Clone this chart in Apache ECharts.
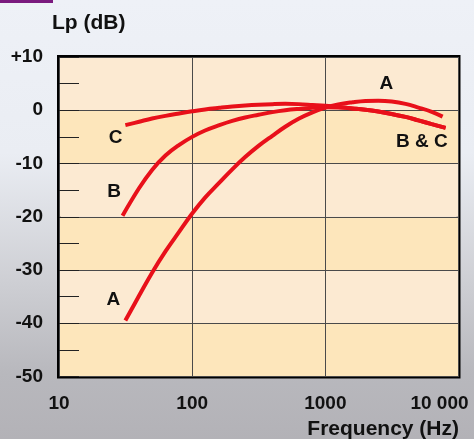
<!DOCTYPE html>
<html>
<head>
<meta charset="utf-8">
<script src="https://cdn.jsdelivr.net/npm/echarts@6/dist/echarts.min.js"></script>
<style>
html,body{margin:0;padding:0;}
#c{width:474px;height:439px;}
</style>
</head>
<body>
<div id="c"></div>
<script>
// ---- data ----
const freqA = [31.5, 40, 50, 63, 80, 100, 125, 160, 200, 250, 315, 400, 500, 630, 800, 1000, 1250, 1600, 2000, 2500, 3150, 4000, 5000, 6300, 7600];
const dbA   = [-39.5, -34.8, -30.5, -26.5, -22.8, -19.4, -16.4, -13.6, -11.1, -8.8, -6.7, -4.8, -3.1, -1.6, -0.4, 0.5, 1.1, 1.5, 1.75, 1.8, 1.65, 1.2, 0.5, -0.3, -1.2];
const freqB = [30, 40, 50, 63, 80, 100, 125, 160, 200, 250, 315, 400, 500, 630, 800, 1000, 1250, 1600, 2000, 2500, 3150, 4000, 5000, 6300, 8000];
const dbB   = [-19.8, -14.6, -11.2, -8.5, -6.5, -5.0, -3.8, -2.8, -2.0, -1.35, -0.85, -0.35, 0.0, 0.25, 0.45, 0.55, 0.5, 0.35, 0.1, -0.25, -0.7, -1.25, -1.9, -2.6, -3.3];
const freqC = [31.5, 40, 50, 63, 80, 100, 125, 160, 200, 250, 315, 400, 500, 630, 800, 1000, 1250, 1600, 2000, 2500, 3150, 4000, 5000, 6300, 8000];
const dbC   = [-2.8, -2.15, -1.55, -1.05, -0.6, -0.2, 0.15, 0.45, 0.7, 0.9, 1.05, 1.15, 1.2, 1.15, 1.0, 0.85, 0.6, 0.35, 0.1, -0.25, -0.7, -1.25, -1.9, -2.6, -3.3];
const curveLabels = ['C', 'B', 'A', 'A', 'B & C'];
const curveLabelFreq = [26.6, 25.9, 25.6, 2870, 5300];
const curveLabelDb = [-5.2, -15.3, -35.6, 4.9, -6.0];
const yTicks = { min: -50, max: 10, step: 10 };
const xTicks = { min: 10, max: 10000 };
const yTitle = 'Lp (dB)';
const xTitle = 'Frequency (Hz)';

const FONT = '"Liberation Sans", Arial, Helvetica, sans-serif';
const RED = '#e8101a';
const pair = (xs, ys) => xs.map((x, i) => [x, ys[i]]);

const chart = echarts.init(document.getElementById('c'), null, {renderer: 'canvas'});
chart.setOption({
  animation: false,
  backgroundColor: {
    type: 'linear', x: 0, y: 0, x2: 0, y2: 1,
    colorStops: [
      {offset: 0, color: '#eef1f7'},
      {offset: 0.35, color: '#eaedf3'},
      {offset: 0.65, color: '#cdced3'},
      {offset: 0.85, color: '#b8b8bd'},
      {offset: 1, color: '#b3b2b7'}
    ]
  },
  title: [
    {text: yTitle, left: 52, top: 13, padding: 0, textStyle: {fontFamily: FONT, fontSize: 21, fontWeight: 'bold', color: '#111'}},
    {text: xTitle, right: 15, top: 419, padding: 0, textStyle: {fontFamily: FONT, fontSize: 21, fontWeight: 'bold', color: '#111'}}
  ],
  graphic: [
    {type: 'rect', left: 0, top: 0, shape: {width: 53, height: 3}, style: {fill: '#7a1a7e'}}
  ],
  grid: {
    left: 59, right: 15.5, top: 57, bottom: 62.5,
    show: true, borderColor: '#000', borderWidth: 4, backgroundColor: 'transparent',
    containLabel: false
  },
  xAxis: {
    type: 'log', logBase: 10, min: xTicks.min, max: xTicks.max,
    axisLine: {show: false}, axisTick: {show: false},
    splitLine: {show: true, lineStyle: {color: '#4a4a4a', width: 1}},
    axisLabel: {
      show: true, margin: 18, color: '#111', fontFamily: FONT, fontSize: 19, fontWeight: 'bold',
      formatter: v => v >= 10000 ? '{m|10 000}' : String(v),
      rich: {m: {fontFamily: FONT, fontSize: 19, fontWeight: 'bold', color: '#111', padding: [0, 38, 0, 0]}}
    }
  },
  yAxis: {
    type: 'value', min: yTicks.min, max: yTicks.max, interval: yTicks.step,
    axisLine: {show: false},
    axisTick: {show: true, inside: true, length: 20, lineStyle: {color: '#222', width: 1}},
    minorTick: {show: true, splitNumber: 2, length: 20, lineStyle: {color: '#222', width: 1}},
    splitLine: {show: true, lineStyle: {color: '#4a4a4a', width: 1}},
    splitArea: {show: true, areaStyle: {color: ['#fde6bb', '#fcead2']}},
    axisLabel: {
      margin: 16, color: '#111', fontFamily: FONT, fontSize: 19, fontWeight: 'bold',
      formatter: v => v > 0 ? '+' + v : String(v)
    }
  },
  series: [
    {type: 'line', data: pair(freqA, dbA), smooth: 0.4, showSymbol: false, lineStyle: {color: RED, width: 4}, z: 3},
    {type: 'line', data: pair(freqB, dbB), smooth: 0.4, showSymbol: false, lineStyle: {color: RED, width: 4}, z: 3},
    {type: 'line', data: pair(freqC, dbC), smooth: 0.4, showSymbol: false, lineStyle: {color: RED, width: 4}, z: 3},
    {
      type: 'scatter', symbolSize: 0, z: 4, itemStyle: {opacity: 1},
      data: curveLabels.map((t, i) => ({name: t, value: [curveLabelFreq[i], curveLabelDb[i]]})),
      label: {show: true, position: 'inside', formatter: p => p.name, color: '#111', opacity: 1, fontFamily: FONT, fontSize: 19, fontWeight: 'bold'}
    }
  ]
});
</script>
</body>
</html>
